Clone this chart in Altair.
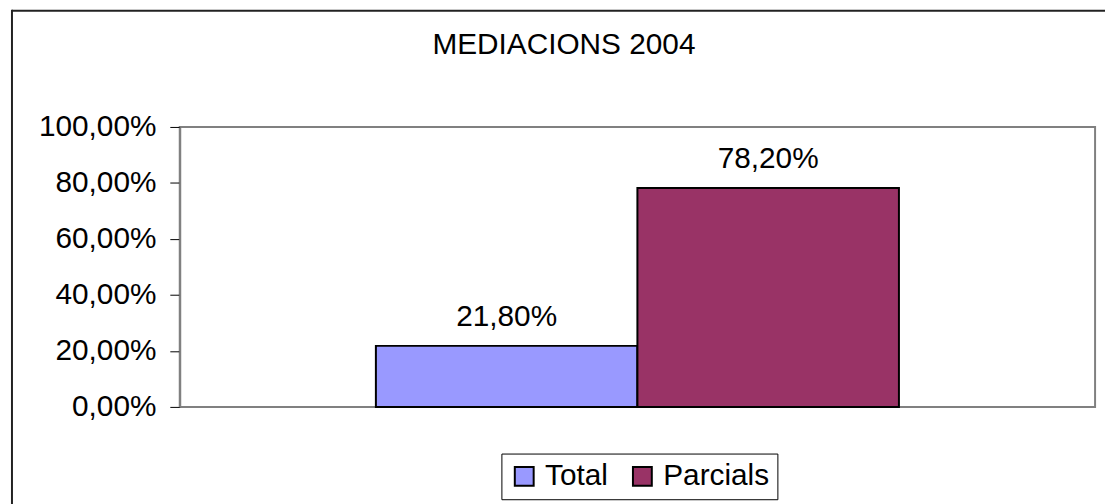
import altair as alt
import pandas as pd

# ---- data ----
categories = ["Total", "Parcials"]
values = [0.218, 0.782]
colors = ["#9999FF", "#993366"]
y_ticks = [0.0, 0.2, 0.4, 0.6, 0.8, 1.0]
group = ["2004", "2004"]
title_text = ["MEDIACIONS 2004"]

FONT = "Liberation Sans"

df = pd.DataFrame({"grup": group, "serie": categories, "valor": values})
title_df = pd.DataFrame({"titol": title_text})

pct_expr = "replace(format(datum.value, '.2%'), '.', ',')"

base = alt.Chart(df).encode(
    x=alt.X("grup:N", axis=None,
            scale=alt.Scale(paddingInner=0, paddingOuter=0.375)),
    xOffset=alt.XOffset("serie:N", sort=categories,
                        scale=alt.Scale(paddingInner=0, paddingOuter=0)),
    y=alt.Y("valor:Q",
            scale=alt.Scale(domain=[0, 1]),
            axis=alt.Axis(values=y_ticks, labelExpr=pct_expr, title=None,
                          grid=False, domainColor="#808080", domainWidth=2,
                          tickColor="black", tickSize=10, tickWidth=1,
                          labelFontSize=30, labelFont=FONT, labelColor="black",
                          labelPadding=14)),
)

bars = base.mark_bar(stroke="black", strokeWidth=2).encode(
    color=alt.Color("serie:N", sort=categories,
                    scale=alt.Scale(domain=categories, range=colors),
                    legend=alt.Legend(title=None, orient="none", legendX=324,
                                      legendY=329, direction="horizontal",
                                      strokeColor="black", padding=8,
                                      fillColor="white",
                                      symbolType="square", symbolSize=361,
                                      symbolStrokeColor="black",
                                      symbolStrokeWidth=2,
                                      labelFontSize=30, labelFont=FONT,
                                      labelColor="black", columnPadding=19,
                                      labelOffset=6)),
)

labels = base.transform_calculate(
    etiqueta="replace(format(datum.valor, '.2%'), '.', ',')"
).mark_text(baseline="alphabetic", dy=-20, fontSize=30, font=FONT,
            color="black").encode(text="etiqueta:N")

frame_top = alt.Chart(title_df).mark_rule(
    stroke="#222222", strokeWidth=2
).encode(x=alt.value(-169), x2=alt.value(2000), y=alt.value(-117))

frame_left = alt.Chart(title_df).mark_rule(
    stroke="#222222", strokeWidth=2
).encode(x=alt.value(-169), y=alt.value(-118), y2=alt.value(2000))

title = alt.Chart(title_df).mark_text(
    baseline="alphabetic", align="center", fontSize=30, font=FONT,
    color="black"
).encode(text="titol:N", x=alt.value(387), y=alt.value(-73))

chart = alt.layer(frame_top, frame_left, title, bars, labels).properties(
    width=922, height=282,
    autosize=alt.AutoSizeParams(type="none"),
    padding={"left": 173, "top": 118, "right": 10, "bottom": 96},
).configure_view(stroke="#808080", strokeWidth=2)

chart.save("out.html", embed_options={"renderer": "svg", "actions": False})
